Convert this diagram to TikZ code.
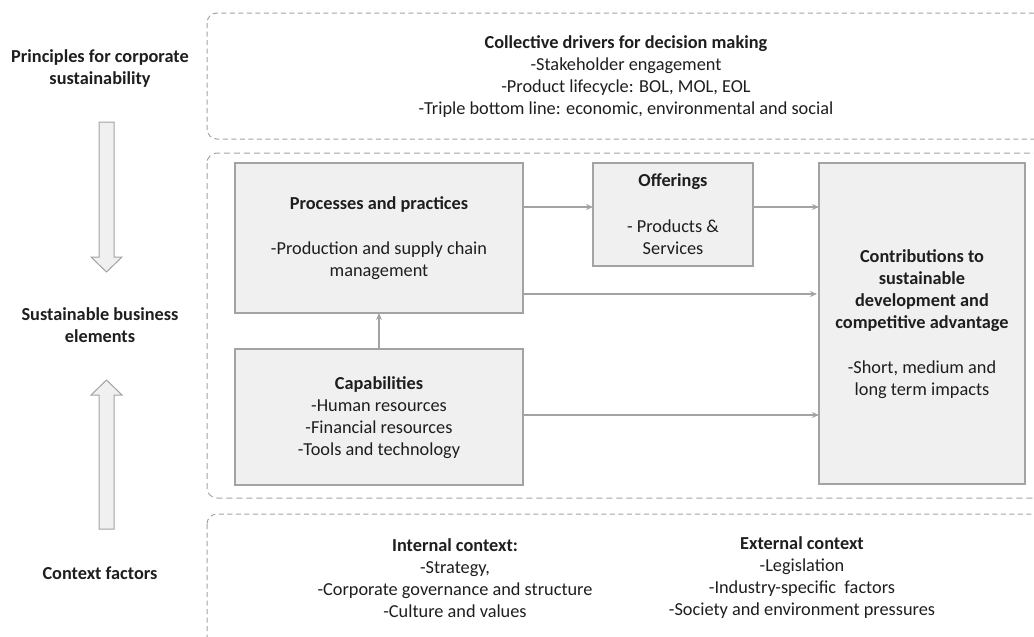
\documentclass[tikz,border=0pt]{standalone}
\usepackage{fontspec}
\setmainfont{Carlito}
\usetikzlibrary{arrows.meta,shapes.arrows}
\definecolor{txt}{HTML}{1E1E1E}
\definecolor{edge}{HTML}{A3A3A3}
\definecolor{boxfill}{HTML}{F0F0F0}
\tikzset{
  every node/.style={text=txt, font=\fontsize{18.3}{22}\selectfont, align=center, inner sep=0pt},
  greybox/.style={draw=edge, fill=boxfill, line width=1.2pt},
  zone/.style={draw=edge, line width=1pt, rounded corners=10pt},
  conn/.style={draw=edge, line width=1.2pt, -{Stealth[length=7pt,width=6pt]}},
  bigarrow/.style={draw=edge, fill=boxfill, line width=1pt},
  lbl/.style={font=\bfseries\fontsize{18.3}{22}\selectfont},
}
\begin{document}
\begin{tikzpicture}[x=1pt,y=-1pt]
\useasboundingbox (0,0) rectangle (1034,637);
\begin{scope}
\clip (0,0) rectangle (1034,637);
% zones
\draw[zone, dash pattern=on 5pt off 3.5pt] (207,13) rectangle (1050,139);
\draw[zone, dash pattern=on 6pt off 4pt] (207,153) rectangle (1050,498);
\draw[zone, dash pattern=on 5pt off 3.5pt] (207,514) rectangle (1050,660);
\end{scope}

% left labels
\node[lbl] (pcs) at (100,69) {Principles for corporate\\sustainability};
\node[lbl] (sbe) at (100,325) {Sustainable business\\elements};
\node[lbl] (cf) at (100,573) {Context factors};

% block arrows
\draw[bigarrow] (99,122) -- (114,122) -- (114,257) -- (122,257) -- (106.5,272) -- (91,257) -- (99,257) -- cycle;
\draw[bigarrow] (99,529) -- (114,529) -- (114,395) -- (122,395) -- (106.5,380) -- (91,395) -- (99,395) -- cycle;

% top text
\node (cd) at (626,77) {\textbf{Collective drivers for decision making}\\-Stakeholder engagement\\-Product lifecycle: BOL, MOL, EOL\\-Triple bottom line: economic, environmental and social};

% boxes
\draw[greybox] (235,163) rectangle (523,313);
\node (proct) at (379,205) {\textbf{Processes and practices}};
\node (procb) at (379,261) {-Production and supply chain\\management};

\draw[greybox] (235,349) rectangle (523,485);
\node (cap) at (379,418) {\textbf{Capabilities}\\-Human resources\\-Financial resources\\-Tools and technology};

\draw[greybox] (593,163) rectangle (753,266);
\node (offt) at (673,182) {\textbf{Offerings}};
\node (offb) at (673,237) {- Products \&\\Services};

\draw[greybox] (819,163) rectangle (1025,484);
\node (cont) at (922,291) {\textbf{Contributions to}\\\textbf{sustainable}\\\textbf{development and}\\\textbf{competitive advantage}};
\node (conb) at (922,380) {-Short, medium and\\long term impacts};

% connectors
\coordinate (pR1) at (523,207);
\coordinate (oL) at (593,207);
\coordinate (oR) at (753,207);
\coordinate (cL1) at (819,207);
\coordinate (pR2) at (523,294);
\coordinate (cL2) at (817,294);
\coordinate (capR) at (523,415);
\coordinate (cL3) at (819,415);
\coordinate (capT) at (379,349);
\coordinate (pB) at (379,313);
\draw[conn] (pR1) -- (oL);
\draw[conn] (oR) -- (cL1);
\draw[conn] (pR2) -- (cL2);
\draw[conn] (capR) -- (cL3);
\draw[conn] (capT) -- (pB);

% bottom text
\node (ic) at (455,578) {\textbf{Internal context:}\\-Strategy,\\-Corporate governance and structure\\-Culture and values};
\node (ec) at (802,578) {\textbf{External context}\\-Legislation\\-Industry-specific\ \ factors\\-Society and environment pressures};
\end{tikzpicture}
\end{document}
